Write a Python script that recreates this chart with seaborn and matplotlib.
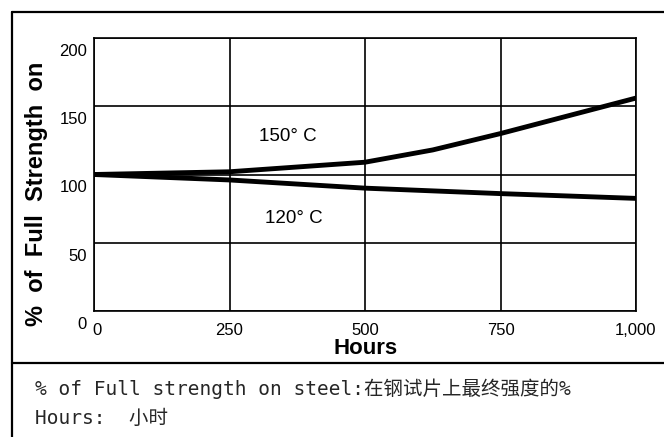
import matplotlib
matplotlib.use("Agg")
import matplotlib.pyplot as plt
from matplotlib.lines import Line2D
from matplotlib.transforms import ScaledTranslation
import seaborn as sns
import pandas as pd

# ---- data ----
hours_150 = [0, 250, 500, 625, 750, 875, 1000]
strength_150 = [100, 102, 109, 118, 130, 143, 156]
hours_120 = [0, 250, 500, 750, 1000]
strength_120 = [100, 96, 90, 86, 82.5]
series_names = ["150° C", "120° C"]

x_ticks = [0, 250, 500, 750, 1000]
x_tick_labels = ["0", "250", "500", "750", "1,000"]
y_ticks = [0, 50, 100, 150, 200]
y_tick_labels = ["0", "50", "100", "150", "200"]

x_label = "Hours"
y_label = "%  of  Full  Strength  on"
note_line1 = "% of Full strength on steel:在钢试片上最终强度的%"
note_line2 = "Hours:  小时"

df = pd.DataFrame({
    "hours": hours_150 + hours_120,
    "strength": strength_150 + strength_120,
    "series": [series_names[0]] * len(hours_150) + [series_names[1]] * len(hours_120),
})

sns.set_theme(style="white")
plt.rcParams["font.family"] = ["Liberation Sans", "DejaVu Sans"]

W, H = 664, 437
fig = plt.figure(figsize=(W / 100, H / 100), dpi=100)
L, R, T, B = 94, 636, 38, 311
ax = fig.add_axes([L / W, 1 - B / H, (R - L) / W, (B - T) / H])

sns.lineplot(data=df, x="hours", y="strength", hue="series",
             palette={series_names[0]: "black", series_names[1]: "black"},
             linewidth=3.5, legend=False, ax=ax, zorder=3)

ax.set_xlim(0, 1000)
ax.set_ylim(0, 200)
ax.set_xticks(x_ticks)
ax.set_xticklabels(x_tick_labels, fontsize=12, color="black")
ax.set_yticks(y_ticks)
ax.set_yticklabels(y_tick_labels, fontsize=12, color="black")
ax.tick_params(axis="both", length=0)
ax.tick_params(axis="x", pad=8.5)
ax.tick_params(axis="y", pad=5)
ax.grid(True, color="black", linewidth=1.2)
ax.set_axisbelow(True)
for s in ax.spines.values():
    s.set_visible(True)
    s.set_color("black")
    s.set_linewidth(1.2)

off = ScaledTranslation(0, -12 / 100, fig.dpi_scale_trans)
for t in ax.yaxis.get_major_ticks():
    t.label1.set_transform(t.label1.get_transform() + off)
# the "0" hour label sits a little right of the axis corner
xoff = ScaledTranslation(3 / 100, 0, fig.dpi_scale_trans)
ax.xaxis.get_major_ticks()[0].label1.set_transform(
    ax.xaxis.get_major_ticks()[0].label1.get_transform() + xoff)

ax.set_xlabel(x_label, fontsize=16, fontweight="bold", color="black", va="center")
ax.xaxis.set_label_coords((366 - L) / (R - L), -(349 - B) / (B - T))
ax.set_ylabel(y_label, fontsize=17, fontweight="bold", color="black", va="center")
ax.yaxis.set_label_coords((36 - L) / (R - L), (B - 194) / (B - T))

ax.text(358, 127.5, series_names[0], fontsize=13.5, ha="center", va="center", color="black")
ax.text(369, 68, series_names[1], fontsize=13.5, ha="center", va="center", color="black")

# outer frame
def fx(px):
    return px / W

def fy(py):
    return 1 - py / H

lw = 1.6
fig.add_artist(Line2D([fx(12), fx(12)], [fy(12), fy(437)], color="black", lw=lw))
fig.add_artist(Line2D([fx(12), fx(664)], [fy(12), fy(12)], color="black", lw=lw))
fig.add_artist(Line2D([fx(12), fx(664)], [fy(363), fy(363)], color="black", lw=lw))

mono = ["DejaVu Sans Mono", "Noto Sans CJK SC"]
fig.text(fx(35), fy(389), note_line1, family=mono, fontsize=14, va="center", ha="left")
fig.text(fx(35), fy(418), note_line2, family=mono, fontsize=14, va="center", ha="left")

fig.savefig("out.png", dpi=100)
